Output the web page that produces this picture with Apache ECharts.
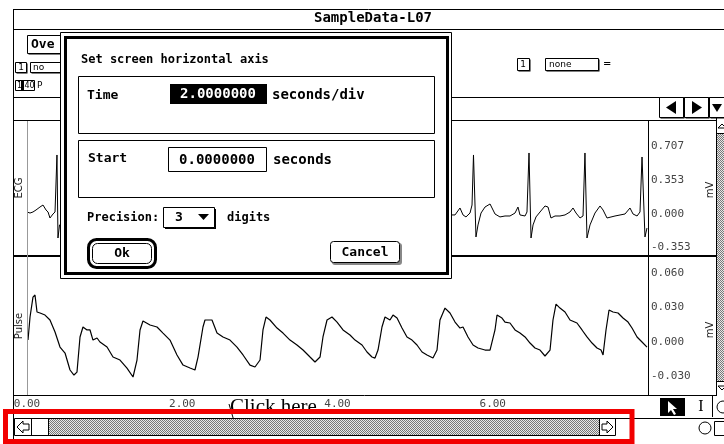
<!DOCTYPE html>
<html>
<head>
<meta charset="utf-8">
<script src="https://cdn.jsdelivr.net/npm/echarts@6/dist/echarts.min.js"></script>
<style>
html, body { margin: 0; padding: 0; background: #fff; }
#chart { width: 724px; height: 444px; }
</style>
</head>
<body>
<div id="chart"></div>
<script>
// ECG trace (only the parts that are not under the dialog)
var ecgTime = [0, 0.039, 0.077, 0.116, 0.167, 0.206, 0.245, 0.271, 0.296, 0.335, 0.361, 0.386, 0.399, 0.419,
  5.475, 5.514, 5.578, 5.617, 5.655, 5.707, 5.733, 5.752, 5.784, 5.810, 5.849, 5.900, 5.965, 6.029, 6.093,
  6.158, 6.222, 6.287, 6.325, 6.351, 6.416, 6.441, 6.467, 6.493, 6.519, 6.557, 6.609, 6.673, 6.712, 6.750,
  6.802, 6.866, 6.931, 6.995, 7.034, 7.073, 7.124, 7.163, 7.188, 7.214, 7.253, 7.317, 7.382, 7.421, 7.472,
  7.575, 7.704, 7.768, 7.807, 7.859, 7.897, 7.923, 7.961, 7.987];
var ecgValue = [0.021, 0.010, 0.021, 0.042, 0.073, 0.094, 0.042, 0.021, -0.042, 0, 0.021, 0.619, -0.252, -0.115,
  -0.010, -0.010, 0.063, -0.010, -0.031, 0.010, 0.094, 0.619, -0.241, -0.115, 0.010, 0.073, 0.105, 0, -0.031,
  -0.021, -0.021, 0.010, 0.073, -0.010, -0.021, 0.021, 0.640, -0.252, -0.115, -0.031, 0.021, 0.084, 0.073, -0.042,
  -0.021, -0.021, -0.010, 0.021, 0.063, 0.010, -0.042, -0.021, 0.640, -0.252, -0.115, 0.010, 0.084, 0.042, -0.042,
  -0.021, 0, 0.063, 0, -0.021, 0.021, 0.598, -0.241, -0.147];

// Pulse trace
var pulseTime = [0.013, 0.039, 0.077, 0.103, 0.129, 0.168, 0.232, 0.296, 0.361, 0.425, 0.490, 0.554, 0.605, 0.644,
  0.683, 0.721, 0.773, 0.812, 0.850, 0.902, 0.940, 1.031, 1.108, 1.198, 1.288, 1.366, 1.417, 1.456, 1.494,
  1.585, 1.675, 1.752, 1.842, 1.932, 2.010, 2.100, 2.164, 2.203, 2.267, 2.293, 2.383, 2.448, 2.525, 2.615,
  2.705, 2.783, 2.873, 2.937, 3.002, 3.040, 3.079, 3.130, 3.221, 3.298, 3.388, 3.478, 3.556, 3.646, 3.710,
  3.775, 3.813, 3.865, 3.929, 3.994, 4.071, 4.161, 4.226, 4.316, 4.380, 4.444, 4.483, 4.522, 4.573, 4.612,
  4.676, 4.715, 4.767, 4.831, 4.895, 4.960, 5.024, 5.089, 5.153, 5.230, 5.282, 5.320, 5.385, 5.449, 5.514,
  5.578, 5.617, 5.681, 5.746, 5.810, 5.900, 5.965, 6.029, 6.055, 6.119, 6.158, 6.222, 6.287, 6.351, 6.416,
  6.480, 6.544, 6.609, 6.673, 6.738, 6.776, 6.815, 6.866, 6.931, 6.995, 7.085, 7.150, 7.214, 7.279, 7.343,
  7.395, 7.421, 7.459, 7.498, 7.549, 7.614, 7.678, 7.743, 7.794, 7.859, 7.923, 7.987];
var pulseValue = [0.0017, 0.0218, 0.0392, 0.0410, 0.0262, 0.0253, 0.0235, 0.0192, 0.0087, -0.0044, -0.0096, -0.0244, -0.0288, -0.0262,
  0.0044, 0.0131, 0.0105, 0.0105, 0.0017, 0.0035, 0, -0.0044, -0.0131, -0.0157, -0.0227, -0.0305, -0.0157, 0.0105, 0.0183,
  0.0148, 0.0131, 0.0078, 0.0017, -0.0113, -0.0201, -0.0227, -0.0244, -0.0131, 0.0131, 0.0192, 0.0192, 0.0078, 0.0044, 0.0017,
  -0.0044, -0.0113, -0.0201, -0.0218, -0.0157, 0.0105, 0.0218, 0.0192, 0.0122, 0.0078, 0.0017, -0.0026, -0.0070, -0.0131, -0.0174,
  -0.0131, 0.0044, 0.0192, 0.0218, 0.0174, 0.0105, 0.0061, 0.0017, -0.0026, -0.0087, -0.0131, -0.0140, -0.0070, 0.0131, 0.0218,
  0.0192, 0.0235, 0.0209, 0.0122, 0.0044, 0.0017, -0.0026, -0.0087, -0.0113, -0.0140, -0.0070, 0.0192, 0.0296, 0.0253, 0.0174,
  0.0122, 0.0131, 0.0044, -0.0026, -0.0052, -0.0070, -0.0070, 0.0105, 0.0235, 0.0209, 0.0174, 0.0166, 0.0105, 0.0078, 0.0044,
  -0.0009, -0.0052, -0.0070, -0.0122, -0.0070, 0.0192, 0.0331, 0.0296, 0.0262, 0.0192, 0.0166, 0.0105, 0.0044, -0.0009, -0.0052,
  -0.0070, -0.0113, 0.0105, 0.0279, 0.0262, 0.0253, 0.0209, 0.0174, 0.0122, 0.0044, 0, -0.0044];

var timeTicks = [0, 2, 4, 6];
var ecgTicks = [-0.353, 0, 0.353, 0.707];
var pulseTicks = [-0.03, 0, 0.03, 0.06];

var MONO = "'DejaVu Sans Mono', monospace";
var SANS = "'DejaVu Sans', sans-serif";

// grey dotted fill for the scroll bars
var pat = document.createElement("canvas");
pat.width = 2;
pat.height = 2;
var pc = pat.getContext("2d");
pc.fillStyle = "#e8e8e8";
pc.fillRect(0, 0, 2, 2);
pc.fillStyle = "#777";
pc.fillRect(0, 0, 1, 1);
pc.fillRect(1, 1, 1, 1);
var dots = { image: pat, repeat: "repeat" };

function ln(x1, y1, x2, y2, w, c, z) {
  return { type: "line", z: z || 10, silent: true,
    shape: { x1: x1, y1: y1, x2: x2, y2: y2 },
    style: { stroke: c || "#000", lineWidth: w || 1 } };
}
function rc(x, y, w, h, fill, stroke, lw, r, z) {
  return { type: "rect", z: z || 10, silent: true,
    shape: { x: x, y: y, width: w, height: h, r: r || 0 },
    style: { fill: fill || "none", stroke: stroke || null, lineWidth: lw || 1 } };
}
function tx(x, y, s, font, z, color, align, rot) {
  return { type: "text", z: z || 12, silent: true, x: x, y: y, rotation: rot || 0,
    style: { text: s, x: 0, y: 0, font: font, fill: color || "#000",
      textAlign: align || "left", textVerticalAlign: "middle" } };
}
function poly(pts, fill, stroke, z) {
  return { type: "polygon", z: z || 12, silent: true, shape: { points: pts },
    style: { fill: fill || "#000", stroke: stroke || null, lineWidth: 1 } };
}
// box with a drop shadow on right and bottom
function sbox(x, y, w, h, z) {
  return [rc(x + 1.5, y + 1.5, w, h, "#000", null, 1, 0, z), rc(x + 0.5, y + 0.5, w, h, "#fff", "#000", 1, 0, z)];
}

var els = [];
// window frame
els.push(ln(13.5, 9, 13.5, 444));
els.push(ln(13, 9.5, 724, 9.5));
els.push(ln(13, 29.5, 724, 29.5));
els.push(tx(373, 18, "SampleData-L07", "bold 14px " + MONO, 12, "#000", "center"));
// top-left controls
els = els.concat(sbox(27, 35, 34, 18));
els.push(tx(31, 45, "Ove", "bold 13px " + MONO));
els = els.concat(sbox(15, 62, 11, 10));
els.push(tx(21, 67.5, "1", "9px " + SANS, 12, "#000", "center"));
els = els.concat(sbox(30, 62, 40, 10));
els.push(tx(33, 67.5, "no", "9px " + SANS));
els.push(rc(15.5, 80.5, 19, 10, "#fff", "#000"));
els.push(rc(21, 81, 3, 9, "#000"));
els.push(tx(17, 86, "1", "8px " + SANS));
els.push(tx(24.5, 86, "40", "8px " + SANS));
els.push(tx(37, 86, "P", "9px " + SANS));
// top-right controls
els = els.concat(sbox(517, 58, 12, 12));
els.push(tx(523, 64.5, "1", "9px " + SANS, 12, "#000", "center"));
els = els.concat(sbox(545, 58, 53, 12));
els.push(tx(549, 64.5, "none", "9px " + SANS));
els.push(tx(603, 64, "=", "10px " + SANS));
els.push(ln(13, 97.5, 724, 97.5));
// header arrow buttons
els = els.concat(sbox(659, 97, 24, 20));
els = els.concat(sbox(684, 97, 24, 20));
els = els.concat(sbox(709, 97, 20, 20));
els.push(poly([[666, 107.5], [676, 101], [676, 114]]));
els.push(poly([[692, 101], [702, 107.5], [692, 114]]));
els.push(poly([[712, 104], [722, 104], [717, 112]]));
// panels
els.push(ln(13, 120.5, 716, 120.5));
els.push(ln(13, 256, 716, 256, 2));
els.push(ln(13, 395.5, 716, 395.5));
els.push(ln(27.5, 121, 27.5, 395, 1, "#999"));
els.push(ln(648.5, 120, 648.5, 396));
els.push(ln(716.5, 117, 716.5, 396));
els.push(tx(19, 188, "ECG", "10px " + SANS, 12, "#222", "center", Math.PI / 2));
els.push(tx(19, 326, "Pulse", "10px " + SANS, 12, "#222", "center", Math.PI / 2));
els.push(tx(710, 190, "mV", "10px " + SANS, 12, "#222", "center", Math.PI / 2));
els.push(tx(710, 330, "mV", "10px " + SANS, 12, "#222", "center", Math.PI / 2));
// vertical scroll bar
els.push(rc(717, 133, 7, 248, dots));
els.push(ln(716, 133.5, 724, 133.5));
els.push(ln(716, 381.5, 724, 381.5));
els.push(poly([[718, 128], [722, 124], [726, 128]], "#fff", "#000"));
els.push(poly([[718, 386], [722, 390], [726, 386]], "#fff", "#000"));
// tool palette
els.push(rc(660, 398, 25, 18, "#000"));
els.push(poly([[668, 401], [668, 413], [671, 410], [674, 415], [676, 414], [673, 409], [677, 409]], "#fff"));
els.push(tx(701, 407, "I", "16px 'Liberation Serif', serif", 12, "#000", "center"));
els.push(ln(712.5, 396, 712.5, 417));
els.push({ type: "circle", z: 12, silent: true, shape: { cx: 723, cy: 407, r: 6 }, style: { fill: "#fff", stroke: "#000" } });
// "Click here" note
els.push(tx(230, 407, "Click here", "21px 'Liberation Serif', serif", 20));
els.push(ln(229, 404, 234, 421, 1, "#000", 20));
// horizontal scroll bar
els.push(rc(14.5, 418.5, 601, 17, "#fff", "#000", 1, 0, 30));
els.push(rc(48, 419, 552, 16, dots, null, 1, 0, 30));
els.push(ln(31.5, 418, 31.5, 436, 1, "#000", 30));
els.push(ln(48.5, 418, 48.5, 436, 1, "#000", 30));
els.push(ln(599.5, 418, 599.5, 436, 1, "#000", 30));
els.push(poly([[17, 427], [23, 421], [23, 424], [29, 424], [29, 430], [23, 430], [23, 433]], "#fff", "#000", 31));
els.push(poly([[613, 427], [607, 421], [607, 424], [602, 424], [602, 430], [607, 430], [607, 433]], "#fff", "#000", 31));
els.push(ln(615, 418.5, 724, 418.5, 1, "#000", 30));
els.push({ type: "circle", z: 30, silent: true, shape: { cx: 705, cy: 428, r: 6 }, style: { fill: "#fff", stroke: "#000" } });
els.push(rc(714.5, 421.5, 10, 14, "#fff", "#000", 1, 0, 30));
// red highlight frame
els.push(rc(5.5, 411.5, 626.5, 30, "none", "#f20000", 5, 0, 40));

// dialog
var D = 100;
els.push(rc(60.5, 32.5, 391, 246, "#fff", "#000", 1, 0, D));
els.push(rc(65.5, 37.5, 382, 236, "none", "#000", 3, 0, D));
els.push(tx(81, 60, "Set screen horizontal axis", "bold 12px " + MONO, D + 1));
els.push(rc(78.5, 76.5, 356, 57, "none", "#000", 1, 0, D));
els.push(tx(87, 96, "Time", "bold 13px " + MONO, D + 1));
els.push(rc(170, 84, 97, 20, "#000", null, 1, 0, D));
els.push(tx(218, 94.5, "2.0000000", "bold 14px " + MONO, D + 1, "#fff", "center"));
els.push(tx(272, 95, "seconds/div", "bold 14px " + MONO, D + 1));
els.push(rc(78.5, 140.5, 356, 57, "none", "#000", 1, 0, D));
els.push(tx(88, 159, "Start", "bold 13px " + MONO, D + 1));
els.push(rc(168.5, 147.5, 98, 24, "#fff", "#000", 1, 0, D));
els.push(tx(217, 160, "0.0000000", "bold 14px " + MONO, D + 1, "#000", "center"));
els.push(tx(273, 160, "seconds", "bold 14px " + MONO, D + 1));
els.push(tx(87, 218, "Precision:", "bold 12px " + MONO, D + 1));
els.push(rc(165, 209, 51, 20, "#000", null, 1, 0, D));
els.push(rc(163.5, 207.5, 51, 20, "#fff", "#000", 1, 0, D));
els.push(tx(179, 218, "3", "bold 13px " + MONO, D + 1, "#000", "center"));
els.push(poly([[198, 214], [209, 214], [203.5, 220]], "#000", null, D + 1));
els.push(tx(227, 218, "digits", "bold 12px " + MONO, D + 1));
els.push(rc(88.5, 239.5, 67, 28, "#fff", "#000", 3, 8, D));
els.push(rc(92.5, 243.5, 59, 20, "none", "#000", 1, 5, D));
els.push(tx(122, 254, "Ok", "bold 13px " + MONO, D + 1, "#000", "center"));
els.push(rc(332, 243, 70, 22, "#888", null, 1, 3, D));
els.push(rc(330.5, 241.5, 69, 21, "#fff", "#000", 1, 3, D));
els.push(tx(365, 252.5, "Cancel", "bold 13px " + MONO, D + 1, "#000", "center"));

var dom = document.getElementById("chart");
var myChart = echarts.init(dom, null, { renderer: "canvas" });

var ecgData = ecgTime.map(function(t, i) { return [t, ecgValue[i]]; });
var pulseData = pulseTime.map(function(t, i) { return [t, pulseValue[i]]; });

var labelStyle = { fontFamily: MONO, fontSize: 11, color: "#444" };

var option = {
  animation: false,
  backgroundColor: "#fff",
  grid: [
    { left: 27, right: 76, top: 120, height: 136 },
    { left: 27, right: 76, top: 256, height: 139 }
  ],
  xAxis: [
    { gridIndex: 0, type: "value", min: 0, max: 8, show: false },
    {
      gridIndex: 1, type: "value", min: 0, max: 8,
      axisLine: { show: false }, axisTick: { show: false }, splitLine: { show: false },
      axisLabel: Object.assign({
        customValues: timeTicks, margin: 4,
        formatter: function(v) { return v.toFixed(2); }
      }, labelStyle)
    }
  ],
  yAxis: [
    {
      gridIndex: 0, type: "value", position: "right", min: -0.4407, max: 0.986,
      axisLine: { show: false }, axisTick: { show: false }, splitLine: { show: false },
      axisLabel: Object.assign({
        customValues: ecgTicks, margin: 3, align: "left",
        formatter: function(v) { return v.toFixed(3); }
      }, labelStyle)
    },
    {
      gridIndex: 1, type: "value", position: "right", min: -0.0462, max: 0.075,
      axisLine: { show: false }, axisTick: { show: false }, splitLine: { show: false },
      axisLabel: Object.assign({
        customValues: pulseTicks, margin: 3, align: "left",
        formatter: function(v) { return v.toFixed(3); }
      }, labelStyle)
    }
  ],
  series: [
    {
      name: "ECG", type: "line", xAxisIndex: 0, yAxisIndex: 0, data: ecgData,
      showSymbol: false, lineStyle: { color: "#000", width: 1 }
    },
    {
      name: "Pulse", type: "line", xAxisIndex: 1, yAxisIndex: 1, data: pulseData,
      showSymbol: false, lineStyle: { color: "#000", width: 1.2 }
    }
  ],
  graphic: { elements: els }
};
myChart.setOption(option);
</script>
</body>
</html>
